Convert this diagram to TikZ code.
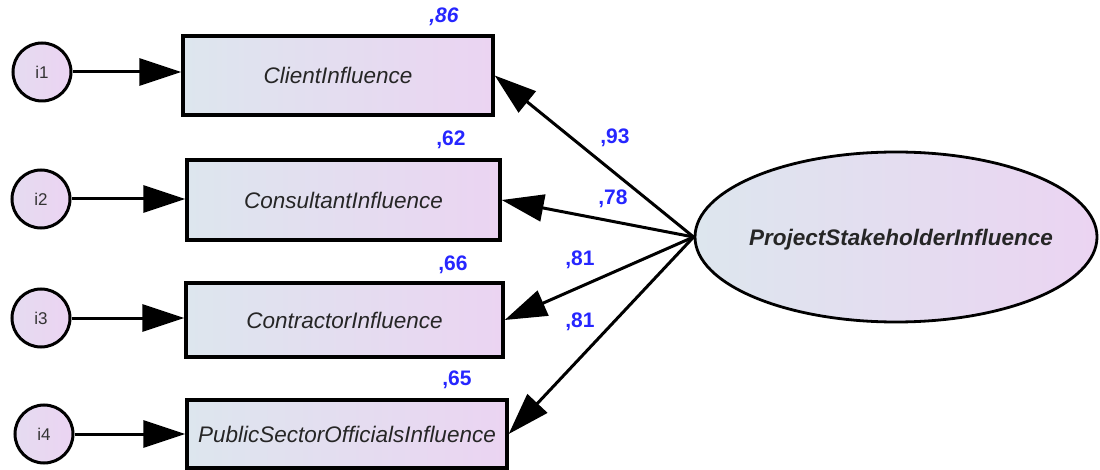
\documentclass[tikz,border=0pt]{standalone}
\usepackage{fontspec}
\setmainfont{Liberation Sans}
\usetikzlibrary{arrows.meta,shapes.geometric}
\definecolor{gleft}{HTML}{DDE6EE}
\definecolor{gright}{HTML}{EBD4F2}
\definecolor{numblue}{HTML}{2626FF}
\definecolor{txt}{HTML}{262626}
\tikzset{
  obsbox/.style={draw=black, line width=3.4pt, inner sep=0pt, left color=gleft, right color=gright,
    font=\fontsize{22.5}{26}\selectfont\itshape, text=txt},
  errc/.style={circle, draw=black, line width=3pt, inner sep=0pt, minimum size=58pt,
    left color=gleft!40!gright, right color=gright,
    font=\fontsize{17}{20}\selectfont, text=black!80},
  latent/.style={ellipse, draw=black, line width=2.8pt, inner sep=0pt,
    minimum width=402pt, minimum height=170pt, left color=gleft, right color=gright},
  lattxt/.style={font=\fontsize{22.5}{26}\selectfont\bfseries\itshape, text=txt, inner sep=0pt},
  arr/.style={line width=3pt, -{Triangle[length=42pt,width=27pt]}},
  num/.style={text=numblue, font=\fontsize{21}{24}\selectfont\bfseries, inner sep=0pt},
}
\begin{document}
\begin{tikzpicture}[x=1pt,y=-1pt]
\useasboundingbox (0,0) rectangle (1100,470);
% observed boxes
\node[obsbox, minimum width=310pt, minimum height=79pt] (b1) at (338,75.5) {ClientInfluence};
\node[obsbox, minimum width=313pt, minimum height=80pt] (b2) at (343.5,200) {ConsultantInfluence};
\node[obsbox, minimum width=317pt, minimum height=74pt] (b3) at (344.5,320) {ContractorInfluence};
\node[obsbox, minimum width=320pt, minimum height=68pt] (b4) at (347,434) {PublicSectorOfficialsInfluence};
% error circles
\node[errc] (i1) at (42,72) {i1};
\node[errc] (i2) at (41,199) {i2};
\node[errc] (i3) at (41,318) {i3};
\node[errc] (i4) at (44,434) {i4};
% latent
\node[latent] (lat) at (896,237) {};
\node[lattxt] (latlabel) at (901,240) {ProjectStakeholderInfluence};
% error arrows
\draw[arr] (i1) -- (i1 -| b1.west);
\draw[arr] (i2) -- (i2 -| b2.west);
\draw[arr] (i3) -- (i3 -| b3.west);
\draw[arr] (i4) -- (i4 -| b4.west);
% loadings
\draw[arr] (lat.west) -- (b1.east);
\draw[arr] (lat.west) -- (b2.east);
\draw[arr] (lat.west) -- (b3.east);
\draw[arr] (lat.west) -- (b4.east);
% squared multiple correlations
\node[num, font=\fontsize{21}{24}\selectfont\bfseries\itshape] (r1) at (444,17) {,86};
\node[num] (r2) at (451,140) {,62};
\node[num] (r3) at (453,265) {,66};
\node[num] (r4) at (457,380) {,65};
% loading labels
\node[num] (l1) at (615,138) {,93};
\node[num] (l2) at (613,199) {,78};
\node[num] (l3) at (580,260) {,81};
\node[num] (l4) at (580,322) {,81};
\end{tikzpicture}
\end{document}
